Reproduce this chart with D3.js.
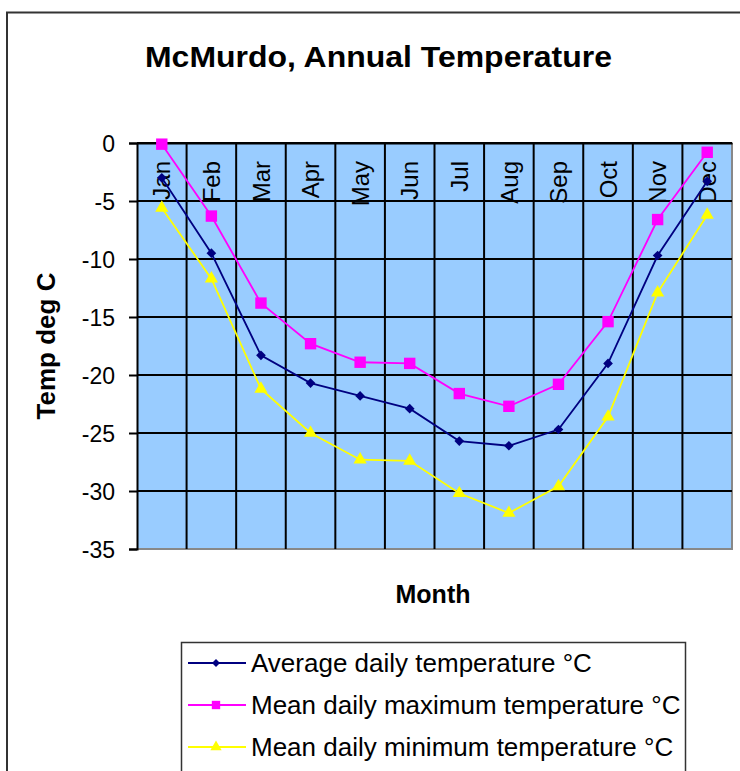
<!DOCTYPE html>
<html><head><meta charset="utf-8">
<script src="https://cdn.jsdelivr.net/npm/d3@7"></script>
<style>body{margin:0;background:#fff;}svg{display:block;font-family:"Liberation Sans",Arial,sans-serif;}</style>
</head><body>
<svg id="c" width="740" height="771"></svg>
<script>
const months = ["Jan","Feb","Mar","Apr","May","Jun","Jul","Aug","Sep","Oct","Nov","Dec"];
const avgTemp = [-3.0,-9.5,-18.3,-20.7,-21.8,-22.9,-25.7,-26.1,-24.7,-19.0,-9.7,-3.3];
const maxTemp = [-0.1,-6.3,-13.8,-17.3,-18.9,-19.0,-21.6,-22.7,-20.8,-15.4,-6.6,-0.8];
const minTemp = [-5.6,-11.7,-21.2,-25.0,-27.3,-27.4,-30.2,-31.9,-29.6,-23.6,-12.9,-6.2];
const yTicks = [0,-5,-10,-15,-20,-25,-30,-35];
const seriesNames = ["Average daily temperature °C","Mean daily maximum temperature °C","Mean daily minimum temperature °C"];

const series = [
  {name: seriesNames[0], values: avgTemp, color: "#000080", symbol: d3.symbolDiamond2, size: 60, lsize: 40},
  {name: seriesNames[1], values: maxTemp, color: "#FF00FF", symbol: d3.symbolSquare, size: 130, lsize: 70},
  {name: seriesNames[2], values: minTemp, color: "#FFFF00", symbol: d3.symbolTriangle, size: 75, lsize: 55}
];

const svg = d3.select("#c");
svg.append("rect").attr("x",7).attr("y",12.5).attr("width",760).attr("height",800)
  .attr("fill","#fff").attr("stroke","#333").attr("stroke-width",2);

const L = 137, R = 732, T = 143, B = 549;
const x = d3.scaleBand().domain(months).range([L,R]).padding(0);
const y = d3.scaleLinear().domain([-35,0]).range([B,T]);

svg.append("text").attr("x",378.5).attr("y",67).attr("text-anchor","middle")
  .attr("font-size",29).attr("font-weight","bold")
  .attr("textLength",467).attr("lengthAdjust","spacingAndGlyphs")
  .text("McMurdo, Annual Temperature");

svg.append("rect").attr("x",L).attr("y",T).attr("width",R-L).attr("height",B-T).attr("fill","#99CCFF");
svg.append("path").attr("d",`M${L},${B}H${R}V${T}`).attr("fill","none").attr("stroke","#888").attr("stroke-width",2);

svg.append("g").selectAll("line").data(yTicks.filter(t=>t!==-35)).join("line")
  .attr("x1",L).attr("x2",R).attr("y1",d=>y(d)).attr("y2",d=>y(d))
  .attr("stroke","#000").attr("stroke-width",2);
svg.append("g").selectAll("line").data(months.slice(1)).join("line")
  .attr("x1",d=>x(d)).attr("x2",d=>x(d)).attr("y1",T).attr("y2",B)
  .attr("stroke","#000").attr("stroke-width",2);

const yAxis = d3.axisLeft(y).tickValues(yTicks).tickSize(8).tickPadding(14).tickFormat(d=>String(d));
const gy = svg.append("g").attr("transform",`translate(${L},0)`).call(yAxis);
gy.select(".domain").attr("stroke","#000").attr("stroke-width",2);
gy.selectAll(".tick line").attr("stroke","#000").attr("stroke-width",2);
gy.selectAll(".tick text").attr("font-size",23).attr("fill","#000")
  .attr("font-family","Liberation Sans, Arial, sans-serif").attr("dy","0.36em");

const xAxis = d3.axisBottom(x).tickSize(0).tickPadding(0);
const gx = svg.append("g").attr("transform",`translate(0,${y(0)})`).call(xAxis);
gx.select(".domain").attr("stroke","#000").attr("stroke-width",2);
gx.selectAll(".tick text").attr("font-size",24).attr("fill","#000")
  .attr("font-family","Liberation Sans, Arial, sans-serif")
  .attr("transform","translate(0,18) rotate(-90)").attr("text-anchor","end")
  .attr("x",0).attr("y",0).attr("dy","0.36em");

svg.append("text").attr("transform","translate(55,346) rotate(-90)").attr("text-anchor","middle")
  .attr("font-size",26).attr("font-weight","bold").text("Temp deg C");
svg.append("text").attr("x",433).attr("y",603).attr("text-anchor","middle")
  .attr("font-size",25).attr("font-weight","bold").text("Month");

const line = d3.line().x((d,i)=>x(months[i])+x.bandwidth()/2).y(d=>y(d));
series.forEach(s=>{
  svg.append("path").attr("d",line(s.values)).attr("fill","none").attr("stroke",s.color).attr("stroke-width",1.8);
  svg.append("g").selectAll("path").data(s.values).join("path")
    .attr("d",d3.symbol().type(s.symbol).size(s.size))
    .attr("transform",(d,i)=>`translate(${x(months[i])+x.bandwidth()/2},${y(d)})`)
    .attr("fill",s.color);
});

const lg = svg.append("g");
lg.append("rect").attr("x",181.5).attr("y",642.5).attr("width",504).attr("height",140)
  .attr("fill","#fff").attr("stroke","#333").attr("stroke-width",1.5);
series.forEach((s,i)=>{
  const cy = 663 + i*42;
  lg.append("line").attr("x1",188).attr("x2",246).attr("y1",cy).attr("y2",cy).attr("stroke",s.color).attr("stroke-width",1.8);
  lg.append("path").attr("d",d3.symbol().type(s.symbol).size(s.lsize)).attr("transform",`translate(216,${cy})`).attr("fill",s.color);
  lg.append("text").attr("x",251).attr("y",cy).attr("dy","0.36em").attr("font-size",26).text(s.name);
});
</script>
</body></html>
